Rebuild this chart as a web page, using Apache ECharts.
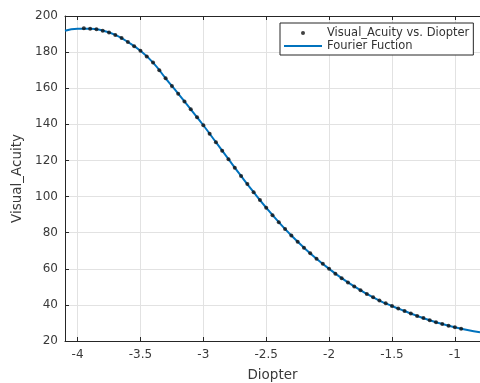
<!DOCTYPE html>
<html>
<head>
<meta charset="utf-8">
<script src="https://cdn.jsdelivr.net/npm/echarts@6/dist/echarts.min.js"></script>
<style>
  html, body { margin: 0; padding: 0; background: #fff; }
  #chart { width: 480px; height: 383px; }
</style>
</head>
<body>
<div id="chart"></div>
<script>
// measured points (Diopter vs Visual_Acuity)
const diopter = [
  -3.95, -3.90, -3.85, -3.80, -3.75, -3.70, -3.65, -3.60, -3.55, -3.50,
  -3.45, -3.40, -3.35, -3.30, -3.25, -3.20, -3.15, -3.10, -3.05, -3.00,
  -2.95, -2.90, -2.85, -2.80, -2.75, -2.70, -2.65, -2.60, -2.55, -2.50,
  -2.45, -2.40, -2.35, -2.30, -2.25, -2.20, -2.15, -2.10, -2.05, -2.00,
  -1.95, -1.90, -1.85, -1.80, -1.75, -1.70, -1.65, -1.60, -1.55, -1.50,
  -1.45, -1.40, -1.35, -1.30, -1.25, -1.20, -1.15, -1.10, -1.05, -1.00,
  -0.95
]
const acuity = [
  193.2, 193.0, 192.6, 191.9, 190.9, 189.5, 187.8, 185.6, 183.3, 180.7,
  177.6, 174.2, 170.0, 165.5, 161.3, 157.0, 152.7, 148.3, 143.9, 139.5,
  134.8, 130.1, 125.4, 120.7, 116.0, 111.4, 106.9, 102.4, 98.1, 93.8,
  89.7, 85.8, 82.0, 78.4, 75.0, 71.7, 68.6, 65.6, 62.8, 60.0,
  57.3, 54.8, 52.4, 50.2, 48.1, 46.1, 44.2, 42.4, 40.9, 39.4,
  38.0, 36.6, 35.2, 33.9, 32.7, 31.5, 30.4, 29.4, 28.5, 27.6,
  26.8
]

// fitted curve
const fitX = [
  -4.1, -4.0, -3.9, -3.8, -3.7, -3.6, -3.5, -3.4, -3.3, -3.2, -3.1, -3.0,
  -2.9, -2.8, -2.7, -2.6, -2.5, -2.4, -2.3, -2.2, -2.1, -2.0,
  -1.9, -1.8, -1.7, -1.6, -1.5, -1.4, -1.3, -1.2, -1.1, -1.0, -0.9, -0.8
]
const fitY = [
  191.8, 193.0, 193.0, 191.9, 189.5, 185.6, 180.7, 174.2, 165.5, 157.0, 148.3, 139.5,
  130.1, 120.7, 111.4, 102.4, 93.8, 85.8, 78.4, 71.7, 65.6, 60.0,
  54.8, 50.2, 46.1, 42.4, 39.4, 36.6, 33.9, 31.5, 29.4, 27.6, 26.1, 24.9
]

const font = 'DejaVu Sans'
const axisColor = '#262626'

const chart = echarts.init(document.getElementById('chart'), null, { renderer: 'canvas' })
chart.setOption({
  animation: false,
  backgroundColor: '#fff',
  textStyle: { fontFamily: font },
  grid: { left: 65, right: 0, top: 16, bottom: 42, outerBoundsMode: 'none', containLabel: false },
  legend: {
    orient: 'vertical',
    left: 280,
    top: 23,
    align: 'left',
    padding: [4, 4, 3, 3],
    itemGap: 1,
    itemWidth: 38,
    itemHeight: 4,
    borderColor: axisColor,
    borderWidth: 1,
    backgroundColor: '#fff',
    textStyle: { fontFamily: font, fontSize: 11.5, color: '#333' },
    data: [
      { name: 'Visual_Acuity vs. Diopter', icon: 'circle' },
      { name: 'Fourier Fuction', itemStyle: { opacity: 0 } }
    ]
  },
  xAxis: [
    {
      type: 'value',
      min: -4.1,
      max: -0.8,
      splitNumber: 7,
      name: 'Diopter',
      nameLocation: 'middle',
      nameGap: 27,
      nameTextStyle: { fontFamily: font, fontSize: 13.5, color: '#3a3a3a' },
      axisLine: { lineStyle: { color: axisColor, width: 1 } },
      axisTick: { inside: true, length: 4, lineStyle: { color: axisColor } },
      axisLabel: {
        showMinLabel: false, showMaxLabel: false,
        margin: 8, fontFamily: font, fontSize: 12, color: '#3a3a3a'
      },
      splitLine: { show: true, lineStyle: { color: '#e2e2e2', width: 1 } }
    },
    {
      type: 'value',
      position: 'top',
      min: -4.1,
      max: -0.8,
      splitNumber: 7,
      axisLine: { show: true, lineStyle: { color: axisColor, width: 1 } },
      axisTick: { inside: true, length: 4, lineStyle: { color: axisColor } },
      axisLabel: { show: false },
      splitLine: { show: false }
    }
  ],
  yAxis: {
    type: 'value',
    min: 20,
    max: 200,
    interval: 20,
    name: 'Visual_Acuity',
    nameLocation: 'middle',
    nameGap: 32,
    nameTextStyle: { fontFamily: font, fontSize: 13.5, color: '#3a3a3a' },
    axisLine: { show: true, lineStyle: { color: axisColor, width: 1 } },
    axisTick: { show: true, inside: true, length: 4, lineStyle: { color: axisColor } },
    axisLabel: { margin: 7, fontFamily: font, fontSize: 12, color: '#3a3a3a' },
    splitLine: { show: true, lineStyle: { color: '#e2e2e2', width: 1 } }
  },
  series: [
    {
      name: 'Fourier Fuction',
      type: 'line',
      data: fitX.map((x, i) => [x, fitY[i]]),
      smooth: true,
      showSymbol: false,
      symbol: 'none',
      lineStyle: { color: '#0072BD', width: 2 },
      itemStyle: { color: '#0072BD' },
      z: 2
    },
    {
      name: 'Visual_Acuity vs. Diopter',
      type: 'scatter',
      data: diopter.map((x, i) => [x, acuity[i]]),
      symbol: 'circle',
      symbolSize: 4,
      itemStyle: { color: '#111' },
      z: 3
    }
  ]
})
</script>
</body>
</html>
